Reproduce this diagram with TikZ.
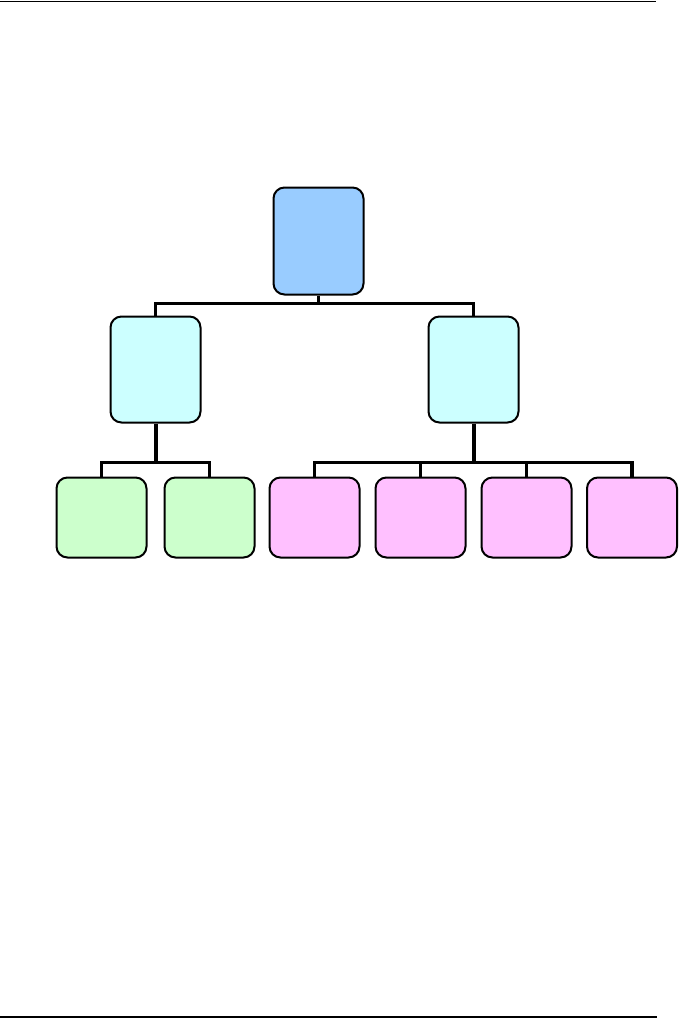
\documentclass[tikz,border=0pt]{standalone}
\begin{document}
\begin{tikzpicture}[x=1pt,y=-1pt,
  box/.style={draw=black,line width=2pt,rounded corners=11pt,inner sep=0pt,anchor=north west},
  conn/.style={line width=3.2pt,line cap=butt},
  stem/.style={line width=4pt,line cap=butt},
  rule/.style={line width=1pt}]
\definecolor{cTop}{HTML}{99CCFF}
\definecolor{cMid}{HTML}{CCFFFF}
\definecolor{cGreen}{HTML}{CCFFCC}
\definecolor{cPink}{HTML}{FFC0FF}
\useasboundingbox (0,0) rectangle (679,1020);
% rules
\coordinate (rtl) at (0,1);
\coordinate (rtr) at (656,1);
\coordinate (rbl) at (0,1017);
\coordinate (rbr) at (657,1017);
\draw[rule] (rtl) -- (rtr);
\draw[line width=2pt] (rbl) -- (rbr);
% boxes
\node[box,fill=cTop,minimum width=90pt,minimum height=107pt] (top) at (272.5,186.5) {};
\node[box,fill=cMid,minimum width=90pt,minimum height=106pt] (ml) at (109.5,315.5) {};
\node[box,fill=cMid,minimum width=90pt,minimum height=106pt] (mr) at (427.5,315.5) {};
\node[box,fill=cGreen,minimum width=90pt,minimum height=80pt] (g1) at (55.5,476.5) {};
\node[box,fill=cGreen,minimum width=90pt,minimum height=80pt] (g2) at (163.5,476.5) {};
\node[box,fill=cPink,minimum width=90pt,minimum height=80pt] (p1) at (268.5,476.5) {};
\node[box,fill=cPink,minimum width=90pt,minimum height=80pt] (p2) at (374.5,476.5) {};
\node[box,fill=cPink,minimum width=90pt,minimum height=80pt] (p3) at (480.5,476.5) {};
\node[box,fill=cPink,minimum width=90pt,minimum height=80pt] (p4) at (586,476.5) {};
% connectors
\coordinate (b1) at (0,303.5);
\coordinate (b2) at (0,462.5);
\draw[conn] (top.south) -- (top.south |- b1);
\draw[conn] (ml.north) |- (top.south |- b1) -| (mr.north);
\draw[stem] (ml.south) -- (ml.south |- b2);
\draw[conn] (g1.north) |- (ml.south |- b2) -| (g2.north);
\draw[stem] (mr.south) -- (mr.south |- b2);
\draw[conn] (p1.north) |- (mr.south |- b2) -| (p4.north);
\draw[conn] (p2.north) -- (p2.north |- b2);
\draw[conn] (p3.north) -- (p3.north |- b2);
\end{tikzpicture}
\end{document}
